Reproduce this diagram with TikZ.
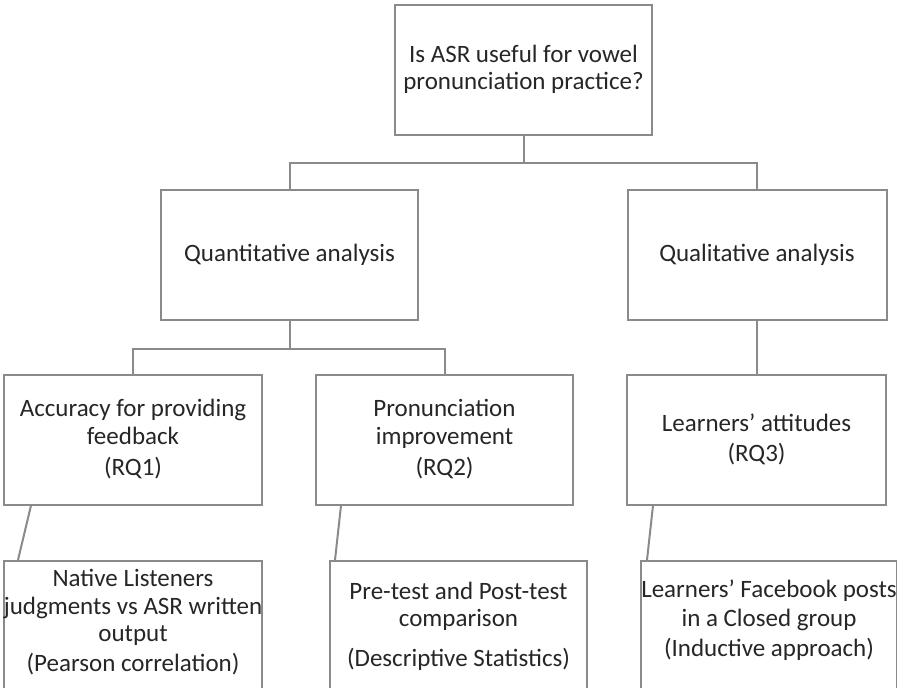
\documentclass[tikz,border=0pt]{standalone}
\usepackage{fontspec}
\setmainfont{Carlito}
\definecolor{linegray}{HTML}{8A8A8A}
\definecolor{textgray}{HTML}{262626}
\tikzset{
  box/.style={rectangle, draw=linegray, line width=2pt, minimum width=257pt,
    minimum height=130pt, align=center, text=textgray,
    font=\fontsize{25}{27.5}\selectfont, inner sep=1pt},
  txt/.style={align=center, text=textgray, font=\fontsize{25}{27.5}\selectfont, inner sep=1pt},
  conn/.style={draw=linegray, line width=2pt}
}

\begin{document}
\begin{tikzpicture}[x=1pt,y=-1pt]
      \useasboundingbox (0,0) rectangle (897,688);
      \clip (0,0) rectangle (897,688);

      \node at (523.5,69.5) [box] (question) {Is ASR useful for vowel\\pronunciation practice?};

      \node at (289.5,254.5) [box] (quant) {Quantitative analysis};
      \node at (757,254.5) [box, minimum width=259pt] (qual) {Qualitative analysis};

      \node at (133,439.5) [box, minimum width=258pt] (accuracy) {Accuracy for providing\\feedback\\[4pt](RQ1)};
      \node at (444.5,439.5) [box] (improve) {Pronunciation\\improvement\\[4pt](RQ2)};
      \node at (756.5,439.5) [box, minimum width=259pt] (attitude) {Learners' attitudes\\[2pt](RQ3)};

      % lower boxes run past the bottom edge
      \node at (133,560) [box, anchor=north, minimum width=258pt, minimum height=160pt] (native) {};
      \node at (133,622) [txt] (native-text) {Native Listeners\\judgments vs ASR written\\output\\[2pt](Pearson correlation)};
      \node at (458.5,560) [box, anchor=north, minimum height=160pt] (pretest) {};
      \node at (458.5,626) [txt] (pretest-text) {Pre-test and Post-test\\comparison\\[12pt](Descriptive Statistics)};
      \node at (769,560) [box, anchor=north, minimum width=256pt, minimum height=160pt] (posts) {};
      \node at (769,620) [txt] (posts-text) {Learners' Facebook posts\\[2pt]in a Closed group\\[2pt](Inductive approach)};

      \draw[conn] (question.south) -- ++(0,27) -| (quant.north);
      \draw[conn] (question.south) -- ++(0,27) -| (qual.north);
      \draw[conn] (quant.south) -- ++(0,28) -| (accuracy.north);
      \draw[conn] (quant.south) -- ++(0,28) -| (improve.north);
      \draw[conn] (qual.south) -- (qual.south |- attitude.north);

      \draw[conn] ([xshift=28pt]accuracy.south west) -- ([xshift=15pt]native.north west);
      \draw[conn] ([xshift=26pt]improve.south west) -- ([xshift=6pt]pretest.north west);
      \draw[conn] ([xshift=27pt]attitude.south west) -- ([xshift=7pt]posts.north west);
\end{tikzpicture}
\end{document}
